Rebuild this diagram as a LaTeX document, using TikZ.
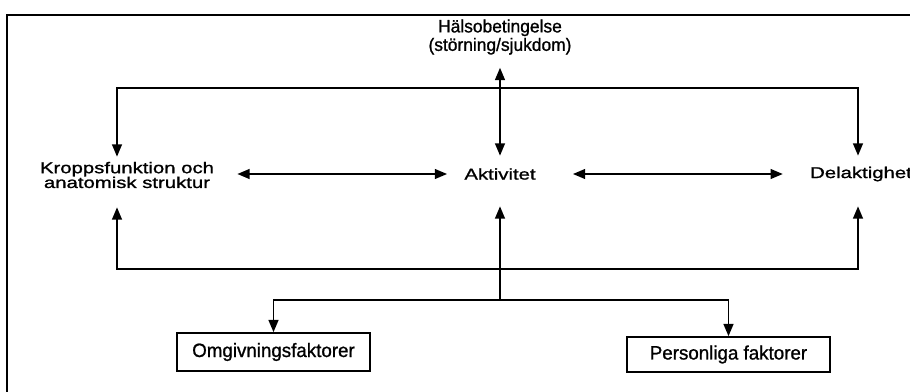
\documentclass[tikz,border=0pt]{standalone}
\usepackage{fontspec}
\setmainfont{Liberation Sans}
\newfontfamily\widefont[FakeStretch=1.3,FakeBold=1.2]{Liberation Sans}
\newfontfamily\titlefont[FakeStretch=0.97,FakeBold=1]{Liberation Sans}
\newfontfamily\boxfont[FakeStretch=0.97,FakeBold=1]{Liberation Sans}
\usetikzlibrary{positioning,arrows.meta}
\tikzset{
  lbl/.style={align=center,inner sep=0pt,minimum height=0.72cm,
              font=\fontsize{8.9pt}{8.4pt}\selectfont\widefont},
  ttl/.style={align=center,inner sep=1pt,
              font=\fontsize{10.2pt}{9pt}\selectfont\titlefont},
  fbox/.style={draw,line width=0.9pt,inner sep=0pt,minimum height=0.76cm,
               font=\fontsize{11pt}{11pt}\selectfont\boxfont},
  arr/.style={-{Triangle[length=7pt,width=5.6pt]},line width=1.05pt},
  both/.style={{Triangle[length=7pt,width=5.6pt]}-{Triangle[length=7pt,width=5.6pt]},line width=1.05pt},
}
\begin{document}
\begin{tikzpicture}[x=0.02cm,y=-0.02cm]
  \useasboundingbox (0,0) rectangle (910,392);
  % frame
  \draw[line width=0.9pt] (7,392) -- (7,15) -- (910,15);

  \node[ttl] (halsa) at (500,37) {Hälsobetingelse\\(störning/sjukdom)};
  \node[lbl] (kropp) at (127,175) {Kroppsfunktion och\\anatomisk struktur};
  \node[lbl] (aktiv) at (500,174) {Aktivitet};
  \node[lbl] (delak) at (861,174) {Delaktighet};
  \node[fbox,minimum width=3.86cm] (omg) at (273.5,352) {Omgivningsfaktorer};
  \node[fbox,minimum width=4.06cm,minimum height=0.7cm] (pers) at (728.5,354.5) {Personliga faktorer};

  \coordinate (tl) at (117,88);
  \coordinate (tr) at (858,88);
  \coordinate (bl) at (117,269);
  \coordinate (br) at (858,269);
  \coordinate (jn) at (500,300);

  \draw[both,shorten <=6\pgflinewidth] (halsa.south) -- (aktiv.north);
  \draw[both] (kropp.north -| tl) -- (tl) -- (tr) -- (delak.north -| tr);
  \draw[both,shorten <=0.28cm,shorten >=0.28cm] (kropp.south -| bl) -- (bl) -- (br) -- (delak.south -| br);
  \draw[arr,shorten >=0.28cm] (jn) -- (aktiv.south);
  \draw[both] (omg.north) |- (jn) -| (pers.north);
  \draw[both,shorten <=0.46cm,shorten >=0.34cm] (kropp.east |- aktiv.west) -- (aktiv.west);
  \draw[both,shorten <=0.74cm,shorten >=0.54cm] (aktiv.east) -- (delak.west);
\end{tikzpicture}
\end{document}
